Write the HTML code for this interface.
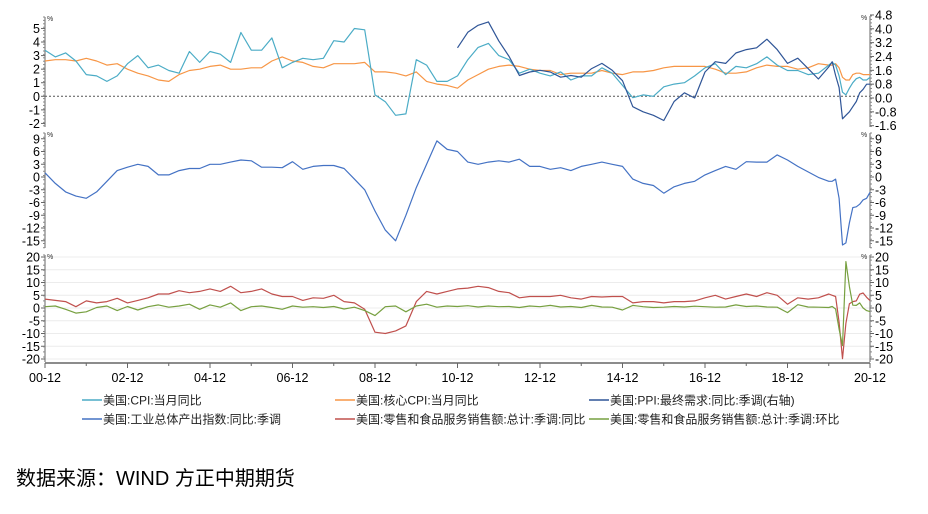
<!DOCTYPE html>
<html><head><meta charset="utf-8"><style>
body{margin:0;background:#fff;width:928px;height:509px;overflow:hidden;font-family:"Liberation Sans","Noto Sans CJK SC",sans-serif}
svg text{font-family:"Liberation Sans","Noto Sans CJK SC",sans-serif}
</style></head><body>
<svg id="c" width="928" height="509" xmlns="http://www.w3.org/2000/svg"></svg>
<script>
// time in months since 2000-12: quarterly through 2019-12, then monthly 2020
const months=[];for(let m=0;m<=228;m+=3)months.push(m);for(let m=229;m<=240;m++)months.push(m);
const cpi=[3.4,2.9,3.2,2.6,1.6,1.5,1.1,1.5,2.4,3.0,2.1,2.3,1.9,1.7,3.3,2.5,3.3,3.1,2.5,4.7,3.4,3.4,4.3,2.1,2.5,2.8,2.7,2.8,4.1,4.0,5.0,4.9,0.1,-0.4,-1.4,-1.3,2.7,2.3,1.1,1.1,1.5,2.7,3.6,3.9,3.0,2.7,1.7,2.0,1.7,1.5,1.8,1.2,1.5,1.5,2.1,1.7,0.8,-0.1,0.1,0.0,0.7,0.9,1.0,1.5,2.1,2.4,1.6,2.2,2.1,2.4,2.9,2.3,1.9,1.9,1.6,1.7,2.3,2.5,2.3,1.5,0.3,0.1,0.6,1.0,1.3,1.4,1.2,1.2,1.4];
const core=[2.6,2.7,2.7,2.6,2.8,2.6,2.3,2.4,2.0,1.7,1.5,1.2,1.1,1.6,1.9,2.0,2.2,2.3,2.0,2.0,2.1,2.1,2.6,2.9,2.6,2.5,2.2,2.1,2.4,2.4,2.4,2.5,1.8,1.8,1.7,1.5,1.8,1.1,0.9,0.8,0.6,1.2,1.6,2.0,2.2,2.3,2.2,2.0,1.9,1.9,1.6,1.7,1.7,1.7,1.9,1.7,1.6,1.8,1.8,1.9,2.1,2.2,2.2,2.2,2.2,2.0,1.7,1.7,1.8,2.1,2.3,2.2,2.2,2.0,2.1,2.4,2.3,2.3,2.4,2.1,1.4,1.2,1.2,1.6,1.7,1.7,1.6,1.6,1.6];
const ppi=[null,null,null,null,null,null,null,null,null,null,null,null,null,null,null,null,null,null,null,null,null,null,null,null,null,null,null,null,null,null,null,null,null,null,null,null,null,null,null,null,2.9,3.8,4.2,4.4,3.3,2.4,1.3,1.5,1.6,1.5,1.2,1.3,1.2,1.7,2.0,1.6,1.0,-0.5,-0.8,-1.0,-1.3,-0.2,0.3,0.0,1.5,2.1,2.0,2.6,2.8,2.9,3.4,2.8,2.0,2.3,1.7,1.1,1.8,2.1,1.3,0.6,-1.2,-1.0,-0.8,-0.5,-0.2,0.3,0.5,0.8,0.8];
const ip=[1.0,-1.5,-3.5,-4.5,-5.0,-3.5,-1.0,1.5,2.3,3.0,2.5,0.5,0.5,1.5,2.0,2.0,3.0,3.0,3.5,4.0,3.8,2.3,2.3,2.2,3.6,1.8,2.5,2.7,2.7,2.0,-0.5,-3.0,-8.0,-12.5,-15.0,-9.0,-2.5,3.0,8.5,6.5,6.0,3.5,3.0,3.5,3.8,3.5,4.2,2.5,2.5,1.8,2.2,1.5,2.5,3.0,3.5,3.0,2.5,-0.5,-1.5,-2.0,-3.8,-2.3,-1.5,-1.0,0.5,1.5,2.5,1.8,3.6,3.5,3.5,5.2,4.0,2.5,1.2,-0.1,-1.0,-1.0,-0.5,-5.0,-16.0,-15.5,-10.8,-7.2,-7.0,-6.4,-5.4,-5.0,-3.6];
const retailYoY=[3.5,3.0,2.5,0.5,2.8,2.0,2.5,3.8,2.0,3.0,4.0,5.5,5.5,6.8,6.0,6.5,7.5,6.5,8.5,6.0,6.5,7.5,5.5,4.5,4.5,3.0,4.0,3.8,5.0,2.5,2.0,-0.5,-9.5,-10.0,-9.0,-7.0,2.5,6.5,5.5,6.5,7.5,7.8,8.5,8.0,6.5,6.0,4.0,4.5,4.5,4.5,5.0,4.0,3.5,4.5,4.3,4.5,4.5,2.0,2.5,2.5,2.0,2.5,2.5,2.8,4.0,5.0,3.5,4.5,5.5,4.5,6.0,5.0,1.5,4.0,3.5,4.0,5.5,5.0,4.5,-5.6,-19.9,-6.0,1.7,2.5,2.8,5.4,5.9,4.2,2.9];
const retailMoM=[0.5,0.8,-0.5,-2.0,-1.5,0.2,0.8,-1.0,0.6,-0.8,0.5,1.2,0.3,0.8,1.5,-0.5,1.2,0.3,2.0,-1.0,0.5,0.8,0.2,-0.5,0.8,0.3,0.5,0.2,0.6,-0.4,0.3,-1.0,-3.0,0.5,0.8,-1.5,0.8,1.5,0.3,0.8,0.6,0.9,0.4,0.8,0.5,0.6,0.2,0.8,0.5,1.0,0.4,0.6,0.2,1.0,0.4,0.3,-0.8,1.0,0.5,0.2,0.3,0.6,0.4,0.7,0.5,0.3,0.4,1.2,0.6,0.8,0.4,0.3,-1.8,1.3,0.4,0.3,0.2,0.6,-0.4,-8.3,-14.7,18.2,8.4,1.1,1.0,2.0,0.0,-1.0,-1.4];
const xTickLabels=["00-12","02-12","04-12","06-12","08-12","10-12","12-12","14-12","16-12","18-12","20-12"];
const p1Left=[5,4,3,2,1,0,-1,-2];
const p1Right=[4.8,4.0,3.2,2.4,1.6,0.8,0.0,-0.8,-1.6];
const p2Ticks=[9,6,3,0,-3,-6,-9,-12,-15];
const p3Ticks=[20,15,10,5,0,-5,-10,-15,-20];

const NS="http://www.w3.org/2000/svg",svg=document.getElementById('c');
function el(t,a,p){const e=document.createElementNS(NS,t);for(const k in a)e.setAttribute(k,a[k]);(p||svg).appendChild(e);return e;}
const X0=45,X1=870;
const xs=m=>X0+m*(X1-X0)/240;
const y1=v=>96.3-v*13.57, y1r=v=>98-v*17.3, y2=v=>177-v*4.25, y3=v=>308-v*2.55;
const C={cpi:"#4bacc6",core:"#f79646",ppi:"#2f5597",ip:"#4472c4",ry:"#c0504d",rm:"#77a040"};

for(const v of p3Ticks){const g=el('line',{x1:X0,x2:X1,y1:y3(v),y2:y3(v),stroke:"#ececec","stroke-width":1});

}
const z=el('line',{x1:X0,x2:X1,y1:y1(0),y2:y1(0),stroke:"#555","stroke-width":1,"stroke-dasharray":"2,2"});


function axis(x,ticks,fy,side,name,top,bot,fmt,minor){
  const g=el('g',{});
  
  
  el('line',{x1:x,x2:x,y1:top,y2:bot,stroke:"#666","stroke-width":1},g);
  for(const v of ticks){const y=fy(v);
    el('line',{x1:x,x2:side<0?x-4:x+4,y1:y,y2:y,stroke:"#666"},g);
    const t=el('text',{x:side<0?x-5:x+5,y:y+4.5,"font-size":"12.5","text-anchor":side<0?"end":"start",fill:"#000"},g);
    t.textContent=fmt?v.toFixed(1):String(v);
  }
  if(minor){for(let y=top;y<=bot;y+=minor)el('line',{x1:x,x2:x+(side<0?-2:2),y1:y,y2:y,stroke:"#888"},g);}
  const p=el('text',{x:side<0?x+2:x-9,y:top+4,"font-size":"7",fill:"#333"},g);p.textContent="%";
}
axis(X0,p1Left,y1,-1,"left-axis-cpi",17,127,false,3.4);
axis(X1,p1Right,y1r,1,"right-axis-ppi",16,127,true,3.45);
axis(X0,p2Ticks,y2,-1,"left-axis-ip",133,248,false,4.25);
axis(X1,p2Ticks,y2,1,"right-axis-ip",133,248,false,4.25);
axis(X0,p3Ticks,y3,-1,"left-axis-retail",255,362,false,5.1);
axis(X1,p3Ticks,y3,1,"right-axis-retail",255,362,false,5.1);

const xa=el('g',{});
el('line',{x1:X0,x2:X1,y1:363,y2:363,stroke:"#666","stroke-width":1.5},xa);
for(let i=0;i<=20;i++){const x=xs(i*12);el('line',{x1:x,x2:x,y1:363,y2:i%2?366:368,stroke:"#666"},xa);}
xTickLabels.forEach((l,i)=>{const t=el('text',{x:xs(i*24),y:382,"font-size":"12.5","text-anchor":"middle"},xa);t.textContent=l;});

function series(arr,fy,col,name,w){
  let d="",pen=false;
  arr.forEach((v,i)=>{if(v===null){pen=false;return;}d+=(pen?"L":"M")+xs(months[i]).toFixed(1)+","+fy(v).toFixed(1);pen=true;});
  const p=el('path',{d,fill:"none",stroke:col,"stroke-width":w||1.2,"stroke-linejoin":"round"});
  
  
}
series(core,y1,C.core,"core-cpi-line");
series(cpi,y1,C.cpi,"cpi-line");
series(ppi,y1r,C.ppi,"ppi-line");
series(ip,y2,C.ip,"industrial-production-line");
series(retailYoY,y3,C.ry,"retail-yoy-line");
series(retailMoM,y3,C.rm,"retail-mom-line");

const legend=[["美国:CPI:当月同比",C.cpi,82,400],["美国:核心CPI:当月同比",C.core,335,400],["美国:PPI:最终需求:同比:季调(右轴)",C.ppi,589,400],
["美国:工业总体产出指数:同比:季调",C.ip,82,419],["美国:零售和食品服务销售额:总计:季调:同比",C.ry,335,419],["美国:零售和食品服务销售额:总计:季调:环比",C.rm,589,419]];
for(const [txt,col,x,y] of legend){
  const g=el('g',{});
  
  
  el('line',{x1:x,x2:x+20,y1:y,y2:y,stroke:col,"stroke-width":1.5},g);
  const t=el('text',{x:x+21,y:y+4.5,"font-size":"12",fill:"#222"},g);t.textContent=txt;
}
const src=el('text',{x:16,y:485,"font-size":"20",fill:"#000"});


src.textContent="数据来源：WIND  方正中期期货";
</script>
</body></html>
